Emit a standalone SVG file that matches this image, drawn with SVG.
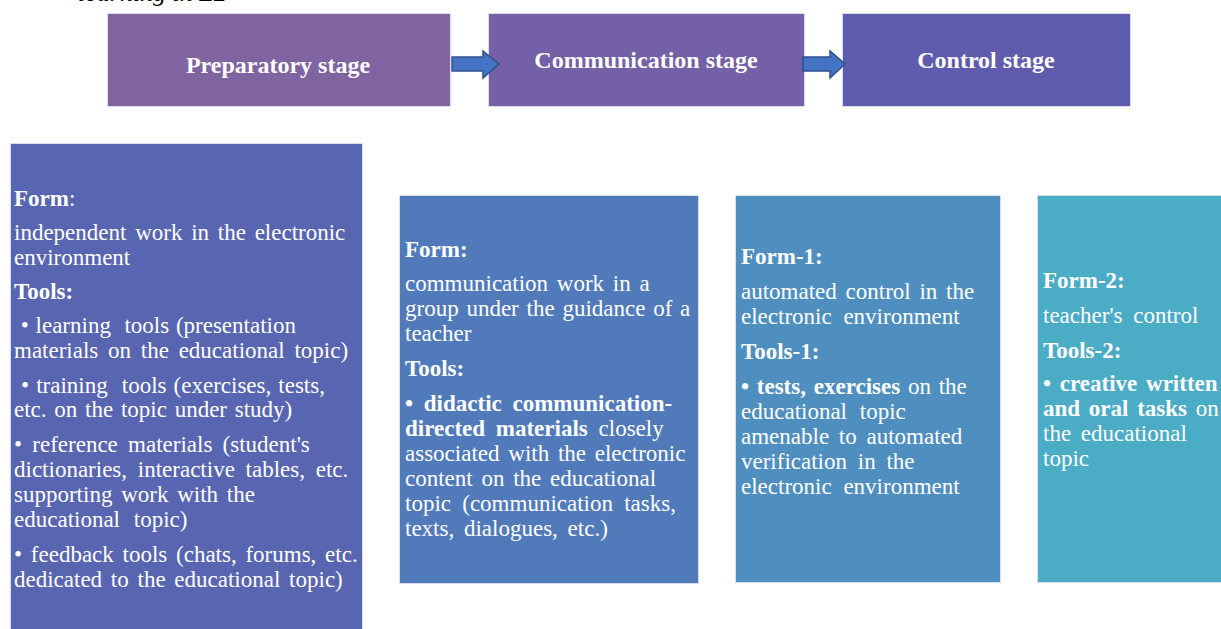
<svg xmlns="http://www.w3.org/2000/svg" width="1221" height="629" viewBox="0 0 1221 629">
<style>
.box{stroke:#d9deee;stroke-width:1}
.hd{font-family:"Liberation Serif","Times New Roman",serif;font-size:24px;font-weight:bold;fill:#ffffff;text-anchor:middle}
.t{font-family:"Liberation Serif","Times New Roman",serif;font-size:23px;fill:#ffffff}
.b{font-weight:bold}
.arr{fill:#4472C4;stroke:#2F528F;stroke-width:1.5}
</style>
<rect width="1221" height="629" fill="#ffffff"/>
<text x="78" y="1" font-family="'Liberation Serif','Times New Roman',serif" font-size="26" font-style="italic" fill="#000000">learning in L2</text>

<g id="preparatory">
<rect class="box" x="107.5" y="13.5" width="343" height="93" fill="#8064A2"/>
<text class="hd" x="278" y="73">Preparatory stage</text>
</g>
<g id="communication">
<rect class="box" x="488.5" y="13.5" width="316" height="93" fill="#7460A6"/>
<text class="hd" x="646" y="68">Communication stage</text>
</g>
<g id="control">
<rect class="box" x="842.5" y="13.5" width="288" height="93" fill="#5F5BAD"/>
<text class="hd" x="986" y="68">Control stage</text>
</g>

<g id="connectors">
<path class="arr" d="M452,57 L483,57 L483,51 L499,64 L483,78 L483,71 L452,71 Z"/>
<path class="arr" d="M803,57 L830,57 L830,51 L845,64 L830,78 L830,71 L803,71 Z"/>
</g>

<g id="prep-details">
<rect class="box" x="10.5" y="143.5" width="352" height="490" fill="#5865B0"/>
<text class="t" x="14" y="206"><tspan class="b">Form</tspan>:</text>
<text class="t" x="14" y="240" word-spacing="3">independent work in the electronic</text>
<text class="t" x="14" y="265">environment</text>
<text class="t b" x="14" y="299">Tools:</text>
<text class="t" x="14" y="333" xml:space="preserve" word-spacing="1"> • learning  tools (presentation</text>
<text class="t" x="14" y="358" word-spacing="4">materials on the educational topic)</text>
<text class="t" x="14" y="393" xml:space="preserve" word-spacing="1.3"> • training  tools (exercises, tests,</text>
<text class="t" x="14" y="417" word-spacing="2">etc. on the topic under study)</text>
<text class="t" x="14" y="452" word-spacing="4.5">• reference materials (student's</text>
<text class="t" x="14" y="477" word-spacing="5">dictionaries, interactive tables, etc.</text>
<text class="t" x="14" y="502" word-spacing="3">supporting work with the</text>
<text class="t" x="14" y="527" word-spacing="8">educational topic)</text>
<text class="t" x="14" y="562" word-spacing="3">• feedback tools (chats, forums, etc.</text>
<text class="t" x="14" y="587" word-spacing="3">dedicated to the educational topic)</text>
</g>

<g id="comm-details">
<rect class="box" x="399.5" y="195.5" width="299" height="388" fill="#517ABB"/>
<text class="t b" x="405" y="257">Form:</text>
<text class="t" x="405" y="291" word-spacing="3">communication work in a</text>
<text class="t" x="405" y="316" word-spacing="2">group under the guidance of a</text>
<text class="t" x="405" y="341">teacher</text>
<text class="t b" x="405" y="376">Tools:</text>
<text class="t b" x="405" y="411" word-spacing="5">• didactic communication-</text>
<text class="t" x="405" y="436" word-spacing="5"><tspan class="b">directed materials</tspan> closely</text>
<text class="t" x="405" y="461" word-spacing="3">associated with the electronic</text>
<text class="t" x="405" y="486" word-spacing="3">content on the educational</text>
<text class="t" x="405" y="511" word-spacing="5.5">topic (communication tasks,</text>
<text class="t" x="405" y="536" word-spacing="4">texts, dialogues, etc.)</text>
</g>

<g id="control-auto">
<rect class="box" x="735.5" y="195.5" width="265" height="387" fill="#4F8FC0"/>
<text class="t b" x="741" y="264">Form-1:</text>
<text class="t" x="741" y="299" word-spacing="3">automated control in the</text>
<text class="t" x="741" y="324" word-spacing="6">electronic environment</text>
<text class="t b" x="741" y="359">Tools-1:</text>
<text class="t" x="741" y="394" word-spacing="2"><tspan class="b">• tests, exercises</tspan> on the</text>
<text class="t" x="741" y="419" word-spacing="7">educational topic</text>
<text class="t" x="741" y="444" word-spacing="4">amenable to automated</text>
<text class="t" x="741" y="469" word-spacing="5">verification in the</text>
<text class="t" x="741" y="494" word-spacing="6">electronic environment</text>
</g>

<g id="control-teacher">
<rect class="box" x="1037.5" y="195.5" width="190" height="387" fill="#4BACC6"/>
<text class="t b" x="1043" y="288">Form-2:</text>
<text class="t" x="1043" y="323" word-spacing="5">teacher's control</text>
<text class="t b" x="1043" y="358">Tools-2:</text>
<text class="t b" x="1043" y="391" word-spacing="3">• creative written</text>
<text class="t" x="1043" y="416" word-spacing="3"><tspan class="b">and oral tasks</tspan> on</text>
<text class="t" x="1043" y="441" word-spacing="4">the educational</text>
<text class="t" x="1043" y="466">topic</text>
</g>
</svg>
